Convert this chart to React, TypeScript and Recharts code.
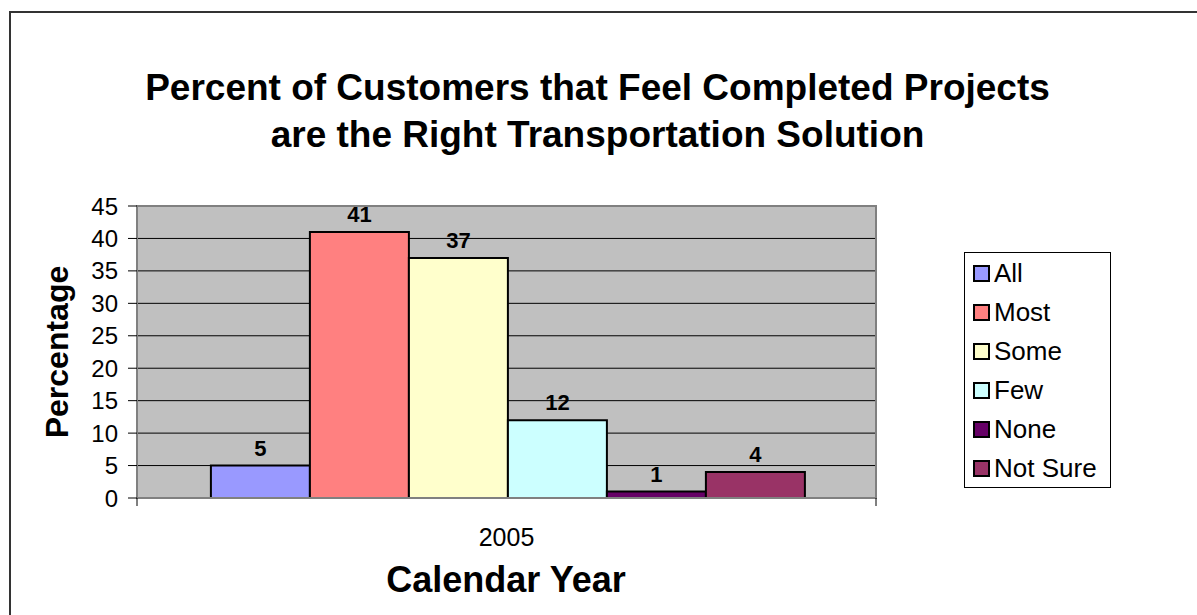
import { BarChart, Bar, XAxis, YAxis, CartesianGrid, LabelList, ReferenceArea } from "recharts";

const categories = ["2005"];
const seriesNames = ["All", "Most", "Some", "Few", "None", "Not Sure"];
const seriesValues = [5, 41, 37, 12, 1, 4];
const seriesColors = ["#9999FF", "#FF8080", "#FFFFCC", "#CCFFFF", "#660066", "#993366"];
const yTicks = [0, 5, 10, 15, 20, 25, 30, 35, 40, 45];

const FONT = "Arial, 'Liberation Sans', sans-serif";
const W = 1197;
const H = 615;
const PLOT_LEFT = 137;
const PLOT_RIGHT = 876;
const BAND = PLOT_RIGHT - PLOT_LEFT;

const data = categories.map((year) => {
  const row: Record<string, string | number> = { year };
  seriesNames.forEach((name, i) => {
    row[name] = seriesValues[i];
  });
  return row;
});

const YearTick = (props: any) => {
  const { x, y, payload } = props;
  return (
    <g>
      <line x1={x - BAND / 2} x2={x - BAND / 2} y1={y} y2={y + 8} stroke="#000" />
      <line x1={x + BAND / 2} x2={x + BAND / 2} y1={y} y2={y + 8} stroke="#000" />
      <text x={x} y={y + 48} textAnchor="middle" fontSize={25} fontFamily={FONT} fill="#000">
        {payload.value}
      </text>
    </g>
  );
};

export default function App() {
  return (
    <div
      style={{
        position: "absolute",
        left: 0,
        top: 0,
        width: W,
        height: H,
        overflow: "hidden",
        background: "#fff",
        fontFamily: FONT,
      }}>
      <div
        style={{
          position: "absolute",
          left: 9,
          top: 11,
          width: W,
          height: H,
          border: "2px solid #333",
        }}
      />

      <div
        style={{
          position: "absolute",
          left: 0,
          top: 64,
          width: 1195,
          textAlign: "center",
          fontWeight: 700,
          fontSize: 37,
          lineHeight: "47px",
        }}>
        Percent of Customers that Feel Completed Projects
        <br />
        are the Right Transportation Solution
      </div>

      <div style={{ position: "absolute", left: 0, top: 0 }}>
        <BarChart
          width={W}
          height={H}
          data={data}
          barCategoryGap="10%"
          barGap={0}
          margin={{ top: 206, right: W - PLOT_RIGHT, bottom: 87, left: 77 }}>
          <CartesianGrid vertical={false} fill="#C0C0C0" stroke="#000" />
          <ReferenceArea y1={0} y2={45} fill="none" stroke="#808080" strokeWidth={2} />
          <XAxis
            dataKey="year"
            height={30}
            tickLine={false}
            tickSize={0}
            tickMargin={0}
            axisLine={{ stroke: "#808080", strokeWidth: 2 }}
            tick={<YearTick />}
          />
          <YAxis
            width={60}
            domain={[0, 45]}
            ticks={yTicks}
            interval={0}
            tickSize={9}
            tickMargin={10}
            axisLine={{ stroke: "#808080", strokeWidth: 2 }}
            tickLine={{ stroke: "#000" }}
            tick={{ fill: "#000", fontSize: 24, fontFamily: FONT }}
          />
          {seriesNames.map((name, i) => (
            <Bar
              key={name}
              dataKey={name}
              fill={seriesColors[i]}
              stroke="#000"
              strokeWidth={2}
              isAnimationActive={false}>
              <LabelList
                dataKey={name}
                position="top"
                offset={10}
                fill="#000"
                fontSize={22}
                fontWeight={700}
                fontFamily={FONT}
              />
            </Bar>
          ))}
        </BarChart>
      </div>

      <div
        style={{
          position: "absolute",
          left: 57,
          top: 352,
          transform: "translate(-50%, -50%) rotate(-90deg)",
          fontWeight: 700,
          fontSize: 32,
          whiteSpace: "nowrap",
        }}>
        Percentage
      </div>

      <div
        style={{
          position: "absolute",
          left: 506,
          top: 580,
          transform: "translate(-50%, -50%)",
          fontWeight: 700,
          fontSize: 36,
          whiteSpace: "nowrap",
        }}>
        Calendar Year
      </div>

      <div
        style={{
          position: "absolute",
          left: 964,
          top: 252,
          width: 145,
          height: 234,
          border: "1px solid #000",
          background: "#fff",
          boxSizing: "content-box",
        }}>
        {seriesNames.map((name, i) => (
          <div
            key={name}
            style={{
              position: "absolute",
              left: 8,
              top: 4 + i * 39,
              height: 32,
              display: "flex",
              alignItems: "center",
              fontSize: 26,
              whiteSpace: "nowrap",
            }}>
            <span
              style={{
                display: "inline-block",
                width: 13,
                height: 13,
                background: seriesColors[i],
                border: "2px solid #000",
                marginRight: 4,
              }}
            />
            {name}
          </div>
        ))}
      </div>
    </div>
  );
}
